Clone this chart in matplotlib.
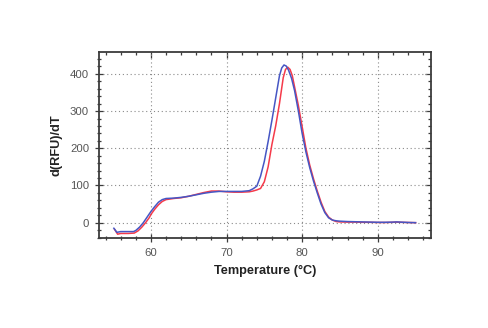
import matplotlib
matplotlib.use("Agg")
import matplotlib.pyplot as plt
from matplotlib.ticker import MultipleLocator

plt.rcParams['font.family'] = ['Liberation Sans Narrow', 'Liberation Sans', 'DejaVu Sans']

# melt curve derivative, two replicates
temp_blue = [55.1, 55.5, 56, 57, 57.7, 58, 58.5, 59, 59.5, 60, 60.5, 61, 61.5, 62,
             63, 64, 65, 66, 67, 68, 69, 70, 71, 72, 73, 73.5, 74, 74.5, 75, 75.5,
             76, 76.5, 77, 77.3, 77.6, 77.9, 78.2, 78.6, 79, 79.5, 80, 80.5, 81,
             81.5, 82, 82.5, 83, 83.5, 84, 84.5, 85, 86, 87, 88, 89, 90, 91, 92,
             92.5, 93, 94, 95]
drfu_blue = [-15, -26, -24, -24, -24, -21, -12, 0, 15, 30, 43, 55, 62, 65,
             66, 68, 71, 75, 79, 82, 84, 84, 84, 84, 86, 91, 98, 125, 165, 218,
             275, 335, 395, 416, 424, 421, 410, 388, 355, 300, 240, 190, 148,
             112, 80, 50, 27, 13, 7, 5, 4, 3, 2.5, 2, 1.5, 1, 1, 1.5,
             2, 1.5, 0.5, 0]

temp_red = [55.2, 55.6, 56, 57, 57.8, 58.3, 58.8, 59.3, 59.8, 60, 60.5, 61, 61.5, 62,
            63, 64, 65, 66, 67, 68, 69, 70, 71, 72, 73, 73.5, 74, 74.5, 75, 75.5,
            76, 76.5, 77, 77.5, 77.8, 78.1, 78.4, 78.7, 79, 79.5, 80, 80.5, 81,
            81.5, 82, 82.5, 83, 83.5, 84, 84.5, 85, 86, 87, 88, 89, 90, 91, 92,
            92.5, 93, 94, 95]
drfu_red = [-18, -31, -29, -29, -28, -22, -12, 0, 14, 22, 36, 48, 57, 62,
            65, 67, 71, 76, 81, 85, 85, 83, 82, 82, 83, 85, 88, 92, 110, 150,
            210, 260, 320, 390, 412, 418, 412, 395, 365, 315, 258, 200, 155,
            118, 85, 55, 30, 15, 7, 3, 2, 1.5, 1.5, 1, 1, 0.5, 0.5, 1,
            1.5, 1, 0.5, 0]

fig = plt.figure(figsize=(4.88, 3.28), dpi=100)
ax = fig.add_axes([0.2023, 0.2735, 0.6803, 0.567])

ax.plot(temp_blue, drfu_blue, color='#4656c4', lw=1.1, zorder=3)
ax.plot(temp_red, drfu_red, color='#f53a4a', lw=1.1, zorder=2)

ax.set_xlim(53.1, 97.0)
ax.set_ylim(-42, 458)
ax.xaxis.set_major_locator(MultipleLocator(10))
ax.xaxis.set_minor_locator(MultipleLocator(2))
ax.yaxis.set_major_locator(MultipleLocator(100))
ax.yaxis.set_minor_locator(MultipleLocator(20))

ax.grid(True, which='major', color='#8a8a8a', linestyle=(0, (1, 2.5)), lw=0.8)

for side in ax.spines.values():
    side.set_color('#3c3c3c')
    side.set_linewidth(1.3)

ax.tick_params(which='both', direction='inout', color='#3c3c3c',
               labelsize=8.2, labelcolor='#555555', width=0.9)
ax.tick_params(which='major', length=6, pad=4)
ax.tick_params(which='minor', length=3.5)

# inward ticks along the top and right edges
top = ax.secondary_xaxis('top')
top.xaxis.set_major_locator(MultipleLocator(10))
top.xaxis.set_minor_locator(MultipleLocator(2))
top.tick_params(which='both', direction='in', color='#3c3c3c', labeltop=False, width=0.9)
top.tick_params(which='major', length=4)
top.tick_params(which='minor', length=2.5)
top.spines['top'].set_visible(False)

right = ax.secondary_yaxis('right')
right.yaxis.set_major_locator(MultipleLocator(100))
right.yaxis.set_minor_locator(MultipleLocator(20))
right.tick_params(which='both', direction='in', color='#3c3c3c', labelright=False, width=0.9)
right.tick_params(which='major', length=4)
right.tick_params(which='minor', length=2.5)
right.spines['right'].set_visible(False)

ax.set_xlabel('Temperature (°C)', fontsize=9.2, fontweight='bold', color='#222222', labelpad=5)
ax.set_ylabel('d(RFU)/dT', fontsize=9.2, fontweight='bold', color='#222222', labelpad=5)

fig.savefig('out.png', dpi=100, facecolor='white')
